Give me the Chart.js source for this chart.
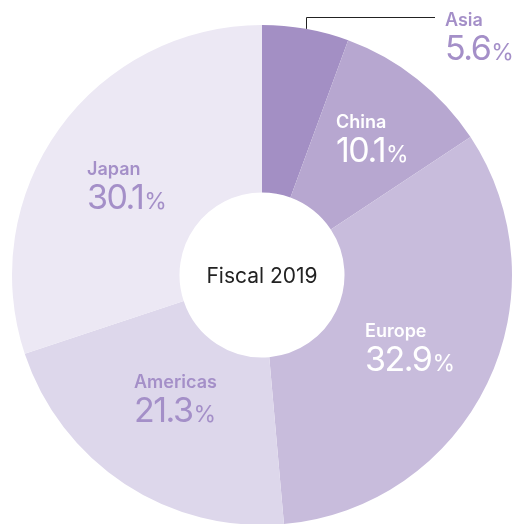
<!DOCTYPE html>
<html>
<head>
<meta charset="utf-8">
<script src="https://cdn.jsdelivr.net/npm/chart.js@4/dist/chart.umd.min.js"></script>
<style>
    html, body { margin: 0; padding: 0; background: #fff; overflow: hidden; }
    #wrap { position: absolute; left: 0; top: 0; width: 515px; height: 540px; }
</style>
</head>
<body>
<div id="wrap"><canvas id="region-chart" width="515" height="540"></canvas></div>
<script>
// Datos: ventas por región, año fiscal 2019
const regiones = ['Asia', 'China', 'Europe', 'Americas', 'Japan'];
const porcentajes = [5.6, 10.1, 32.9, 21.3, 30.1];
const coloresRegion = ['#a38fc4', '#b7a7d0', '#c8bcdc', '#ddd7eb', '#ece8f4'];
const tituloCentro = 'Fiscal 2019';

// Estilo y posición de cada etiqueta (x, línea base del nombre, color)
const etiquetas = [
    { x: 445, y: 26, color: '#a48fc8', linea: true },
    { x: 336, y: 128, color: '#ffffff' },
    { x: 365, y: 337, color: '#ffffff' },
    { x: 134, y: 388, color: '#a48fc8' },
    { x: 87, y: 175, color: '#a48fc8' }
];

const etiquetasPlugin = {
    id: 'etiquetasRegion',
    afterDatasetsDraw(chart) {
        const ctx = chart.ctx;
        const arcos = chart.getDatasetMeta(0).data;
        ctx.save();
        ctx.textBaseline = 'alphabetic';
        ctx.textAlign = 'left';

        regiones.forEach((nombre, i) => {
            const e = etiquetas[i];
            ctx.fillStyle = e.color;
            ctx.letterSpacing = '0px';
            ctx.font = '600 18px Inter, "Noto Sans", sans-serif';
            ctx.fillText(nombre, e.x, e.y);

            const numero = porcentajes[i].toFixed(1);
            ctx.font = '400 34px Inter, "Noto Sans", sans-serif';
            ctx.letterSpacing = '-1.5px';
            const yNum = e.y + 34;
            ctx.fillText(numero, e.x, yNum);
            const ancho = ctx.measureText(numero).width;
            ctx.letterSpacing = '0px';
            ctx.font = '400 23px Inter, "Noto Sans", sans-serif';
            ctx.fillText('%', e.x + ancho + 1, yNum);

            // Línea guía para el segmento pequeño
            if (e.linea) {
                const arco = arcos[i];
                const medio = (arco.startAngle + arco.endAngle) / 2;
                const px = arco.x + Math.cos(medio) * arco.outerRadius;
                const py = arco.y + Math.sin(medio) * arco.outerRadius;
                ctx.strokeStyle = '#222';
                ctx.lineWidth = 1;
                ctx.beginPath();
                ctx.moveTo(Math.round(px) + 0.5, py);
                ctx.lineTo(Math.round(px) + 0.5, 17.5);
                ctx.lineTo(e.x - 10, 17.5);
                ctx.stroke();
            }
        });

        // Texto central
        const a0 = arcos[0];
        ctx.fillStyle = '#222';
        ctx.textAlign = 'center';
        ctx.font = '400 21px Inter, "Noto Sans", sans-serif';
        ctx.fillText(tituloCentro, a0.x, a0.y + 8);
        ctx.restore();
    }
};

new Chart(document.getElementById('region-chart').getContext('2d'), {
    type: 'doughnut',
    data: {
        labels: regiones,
        datasets: [{
            data: porcentajes,
            backgroundColor: coloresRegion,
            borderWidth: 0
        }]
    },
    options: {
        responsive: false,
        animation: false,
        cutout: '33%',
        rotation: 0,
        layout: { padding: { left: 12, right: 3, top: 25, bottom: 15 } },
        plugins: {
            legend: { display: false },
            tooltip: { enabled: false }
        }
    },
    plugins: [etiquetasPlugin]
});
</script>
</body>
</html>
